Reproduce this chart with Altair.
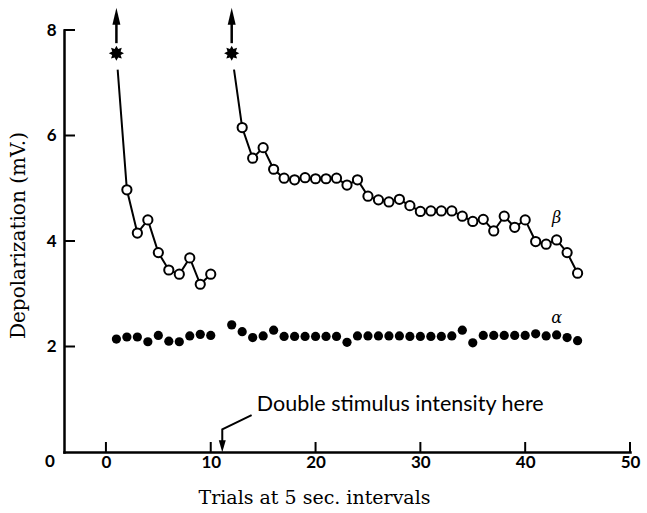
import math
import altair as alt
import pandas as pd

# ---------------- data ----------------
beta_trials = list(range(1, 11)) + list(range(12, 46))
beta_values = [7.56, 4.97, 4.15, 4.40, 3.78, 3.45, 3.37, 3.68, 3.18, 3.37,
               7.56, 6.15, 5.57, 5.77, 5.36, 5.19, 5.16, 5.20, 5.18, 5.18,
               5.19, 5.06, 5.16, 4.85, 4.78, 4.74, 4.79, 4.67, 4.56, 4.57,
               4.57, 4.57, 4.47, 4.37, 4.41, 4.19, 4.47, 4.26, 4.40, 3.99,
               3.94, 4.02, 3.78, 3.39]
beta_segment = [1] * 10 + [2] * 34
# first trial of each run is off-scale (asterisk + arrow)
off_scale_trials = [1, 12]
off_scale_values = [7.56, 7.56]
off_arrow_base = [7.75, 7.75]
off_arrow_tip = [8.19, 8.19]
off_arrow_head = [8.26, 8.26]

alpha_trials = list(range(1, 11)) + list(range(12, 46))
alpha_values = [2.14, 2.18, 2.18, 2.09, 2.21, 2.10, 2.09, 2.20, 2.23, 2.21,
                2.41, 2.28, 2.17, 2.20, 2.31, 2.19, 2.19, 2.19, 2.19, 2.19,
                2.19, 2.08, 2.20, 2.20, 2.20, 2.20, 2.20, 2.19, 2.19, 2.19,
                2.19, 2.20, 2.31, 2.07, 2.21, 2.21, 2.21, 2.21, 2.21, 2.24,
                2.20, 2.22, 2.17, 2.11]

x_ticks = [0, 10, 20, 30, 40, 50]
y_ticks = [2, 4, 6, 8]

note_text = ["Double stimulus intensity here"]
note_pos = [14.4, 0.89]
note_arrow_x = [13.9, 11.1, 11.1]
note_arrow_y = [0.70, 0.43, 0.17]
note_head = [11.1, 0.11]

greek_labels = ["β", "α"]
greek_x = [43.0, 43.0]
greek_y = [4.44, 2.54]

# ---------------- geometry / style ----------------
W, H = 566, 422
XMIN, XMAX, YMIN, YMAX = -4, 50, 0, 8
px_x = W / (XMAX - XMIN)
px_y = H / (YMAX - YMIN)

xs = alt.Scale(domain=[XMIN, XMAX], nice=False, zero=False)
ys = alt.Scale(domain=[YMIN, YMAX], nice=False, zero=False)

x_axis = alt.Axis(values=x_ticks, ticks=False, grid=False, domain=True,
                  domainColor="black", domainWidth=2.5, domainCap="square",
                  labelFont="Lato", labelFontSize=17, labelFontWeight="bold",
                  labelColor="black", labelPadding=2, labelFlush=False,
                  title="Trials at 5 sec. intervals", titleFont="DejaVu Serif",
                  titleFontSize=19, titleFontWeight="normal", titleColor="black",
                  titleX=250, titleY=45, titleBaseline="middle", titleAlign="center")
y_axis = alt.Axis(values=y_ticks, ticks=False, grid=False, domain=True,
                  domainColor="black", domainWidth=2.5, domainCap="square",
                  labelFont="Lato", labelFontSize=17, labelFontWeight="bold",
                  labelColor="black", labelPadding=8, labelFlush=False,
                  title="Depolarization (mV.)", titleFont="DejaVu Serif",
                  titleFontSize=20, titleFontWeight="normal", titleColor="black",
                  titleX=-46, titleY=205, titleAngle=-90, titleBaseline="middle",
                  titleAlign="center")


def X(field):
    return alt.X(field, type="quantitative", scale=xs, axis=x_axis)


def Y(field):
    return alt.Y(field, type="quantitative", scale=ys, axis=y_axis)


beta = pd.DataFrame({"trial": beta_trials, "value": beta_values, "seg": beta_segment})
beta_pts = beta[~beta["trial"].isin(off_scale_trials)]
alpha = pd.DataFrame({"trial": alpha_trials, "value": alpha_values})
off = pd.DataFrame({"trial": off_scale_trials, "value": off_scale_values,
                    "base": off_arrow_base, "tip": off_arrow_tip, "head": off_arrow_head})

star_pts = []
for k in range(16):
    r = 1.0 if k % 2 == 0 else 0.6
    a = k * math.pi / 8 - math.pi / 2
    star_pts.append(f"{r * math.cos(a):.3f},{r * math.sin(a):.3f}")
star_path = "M" + " L".join(star_pts) + " Z"
up_head = "M0,-1 L0.47,1 L-0.47,1 Z"
down_head = "M0,1 L0.58,-1 L-0.58,-1 Z"

line = alt.Chart(beta).mark_line(color="black", strokeWidth=2).encode(
    x=X("trial"), y=Y("value"), detail="seg:N")
mask = alt.Chart(off).mark_point(shape="circle", filled=True, fill="white",
                                 opacity=1, size=1100).encode(x=X("trial"), y=Y("value"))
star = alt.Chart(off).mark_point(shape=star_path, filled=True, color="black",
                                 opacity=1, size=230).encode(x=X("trial"), y=Y("value"))
shaft = alt.Chart(off).mark_rule(color="black", strokeWidth=2.5).encode(
    x=X("trial"), y=Y("base"), y2="tip")
head = alt.Chart(off).mark_point(shape=up_head, filled=True, color="black",
                                 opacity=1, size=289).encode(x=X("trial"), y=Y("head"))
circles = alt.Chart(beta_pts).mark_point(shape="circle", filled=True, fill="white",
                                         stroke="black", strokeWidth=2, opacity=1,
                                         size=85).encode(x=X("trial"), y=Y("value"))
dots = alt.Chart(alpha).mark_circle(color="black", opacity=1, size=85).encode(
    x=X("trial"), y=Y("value"))

xt = pd.DataFrame({"t": x_ticks, "y0": 0.0, "y1": 10 / px_y})
xtick = alt.Chart(xt).mark_rule(color="black", strokeWidth=2).encode(
    x=X("t"), y=Y("y0"), y2="y1")
yt = pd.DataFrame({"t": y_ticks, "x0": float(XMIN), "x1": XMIN + 11 / px_x})
ytick = alt.Chart(yt).mark_rule(color="black", strokeWidth=2).encode(
    y=Y("t"), x=X("x0"), x2="x1")

zero = alt.Chart(pd.DataFrame({"x": [XMIN - 1.34], "y": [0.0], "t": ["0"]})).mark_text(
    font="Lato", fontSize=17, fontWeight="bold", color="black", align="center",
    baseline="top", dy=2
).encode(x=X("x"), y=Y("y"), text="t")

note = alt.Chart(pd.DataFrame({"x": [note_pos[0]], "y": [note_pos[1]], "t": note_text})).mark_text(
    font="Lato", fontSize=21.5, color="black", align="left", baseline="middle"
).encode(x=X("x"), y=Y("y"), text="t")
narrow = alt.Chart(pd.DataFrame({"x": note_arrow_x, "y": note_arrow_y,
                                 "i": list(range(len(note_arrow_x)))})).mark_line(
    color="black", strokeWidth=2).encode(x=X("x"), y=Y("y"), order="i")
nhead = alt.Chart(pd.DataFrame({"x": [note_head[0]], "y": [note_head[1]]})).mark_point(
    shape=down_head, filled=True, color="black", opacity=1, size=144).encode(
    x=X("x"), y=Y("y"))

greek = alt.Chart(pd.DataFrame({"x": greek_x, "y": greek_y, "t": greek_labels})).mark_text(
    font="DejaVu Serif", fontStyle="italic", fontSize=16, color="black",
    align="center", baseline="middle"
).encode(x=X("x"), y=Y("y"), text="t")

chart = alt.layer(line, mask, star, shaft, head, circles, dots, xtick, ytick,
                  zero, note, narrow, nhead, greek).properties(
    width=W, height=H,
    autosize=alt.AutoSizeParams(type="none"),
    padding={"left": 64, "top": 30, "right": 17, "bottom": 61},
    background="white",
).configure_view(stroke=None)

chart.save("out.html", embed_options={"renderer": "svg", "actions": False})
